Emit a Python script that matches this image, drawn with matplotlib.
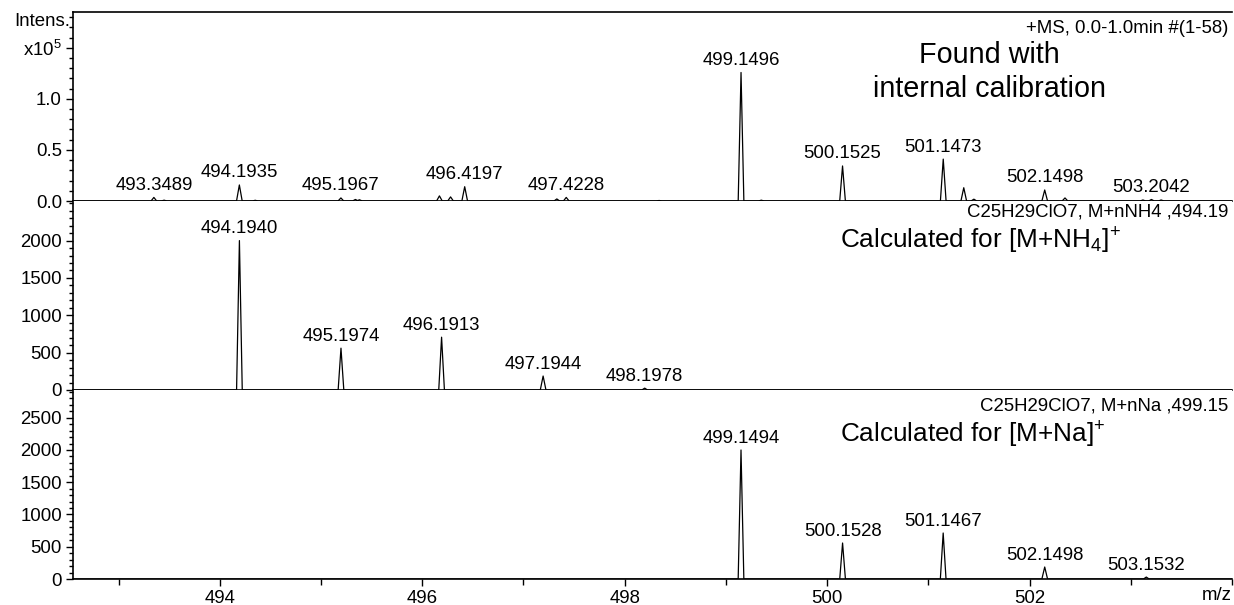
import numpy as np
import matplotlib
matplotlib.use("Agg")
import matplotlib.pyplot as plt
from matplotlib.ticker import MultipleLocator, FixedLocator

plt.rcParams['font.family'] = ['Liberation Sans', 'DejaVu Sans']
plt.rcParams['mathtext.fontset'] = 'custom'
plt.rcParams['mathtext.rm'] = 'Liberation Sans'
plt.rcParams['mathtext.it'] = 'Liberation Sans:italic'
plt.rcParams['mathtext.bf'] = 'Liberation Sans:bold'

# measured spectrum (internal calibration), intensities in counts
found_mz = [493.3489, 493.45, 494.1935, 494.35, 495.1967, 495.34, 495.38,
            496.17, 496.28, 496.4197, 497.33, 497.4228, 498.34, 499.1496,
            499.35, 500.1525, 501.1473, 501.35, 501.45, 502.1498, 502.35,
            503.12, 503.2042, 503.30]
found_int = [3500, 800, 15700, 700, 3000, 1500, 1200,
             5000, 4000, 14000, 2000, 3500, 500, 125800,
             800, 34300, 41000, 13000, 1800, 10800, 3000,
             1000, 1500, 1000]
found_labels = ["493.3489", "494.1935", "495.1967", "496.4197", "497.4228",
                "499.1496", "500.1525", "501.1473", "502.1498", "503.2042"]

# calculated isotope pattern for [M+NH4]+
nh4_mz = [494.1940, 495.1974, 496.1913, 497.1944, 498.1978]
nh4_int = [2000, 560, 707, 187, 25]

# calculated isotope pattern for [M+Na]+
na_mz = [499.1494, 500.1528, 501.1467, 502.1498, 503.1532]
na_int = [2000, 558, 713, 186, 30]

x_major = [494, 496, 498, 500, 502]
x_minor = [493, 495, 497, 499, 501, 503, 504]

XMIN, XMAX = 492.55, 504.0


def profile(mz, inten, w=0.028):
    xs, ys = [XMIN], [0.0]
    for m, h in sorted(zip(mz, inten)):
        xs += [m - w, m, m + w]
        ys += [0.0, h, 0.0]
    xs.append(XMAX)
    ys.append(0.0)
    return np.array(xs), np.array(ys)


fig = plt.figure(figsize=(12.34, 6.05), dpi=100)
L, W = 73 / 1234, (1232 - 73) / 1234
H = 189 / 605
ax1 = fig.add_axes([L, (605 - 201) / 605, W, H])
ax2 = fig.add_axes([L, (605 - 390) / 605, W, H], sharex=ax1)
ax3 = fig.add_axes([L, (605 - 579) / 605, W, H], sharex=ax1)

lab_fs = 13.4
for ax in (ax1, ax2, ax3):
    ax.spines['right'].set_visible(False)
    for s in ('left', 'bottom', 'top'):
        ax.spines[s].set_linewidth(1.2)
    ax.tick_params(axis='y', which='major', length=5, width=1, pad=3, labelsize=lab_fs)
    ax.tick_params(axis='y', which='minor', length=3, width=1)
    ax.set_xlim(XMIN, XMAX)

ax2.spines['top'].set_visible(False)
ax3.spines['top'].set_visible(False)

# top panel: found
x, y = profile(found_mz, found_int)
ax1.plot(x, y / 1e5, color='black', lw=0.9)
ax1.set_ylim(0, 1.85)
ax1.yaxis.set_major_locator(FixedLocator([0, 0.5, 1.0, 1.5]))
ax1.set_yticklabels(["0.0", "0.5", "1.0", "x10$^5$"])
ax1.yaxis.set_minor_locator(MultipleLocator(0.1))
for m, h in zip(found_mz, found_int):
    lab = "%.4f" % m
    if lab in found_labels:
        ax1.annotate(lab, (m, h / 1e5), xytext=(0, 2.5), textcoords='offset points',
                     ha='center', va='bottom', fontsize=lab_fs)

# middle panel: [M+NH4]+
x, y = profile(nh4_mz, nh4_int)
ax2.plot(x, y, color='black', lw=0.9)
ax2.set_ylim(0, 2530)
ax2.yaxis.set_major_locator(FixedLocator([0, 500, 1000, 1500, 2000]))
ax2.yaxis.set_minor_locator(MultipleLocator(100))
for m, h in zip(nh4_mz, nh4_int):
    ax2.annotate("%.4f" % m, (m, h), xytext=(0, 2.5), textcoords='offset points',
                 ha='center', va='bottom', fontsize=lab_fs)

# bottom panel: [M+Na]+
x, y = profile(na_mz, na_int)
ax3.plot(x, y, color='black', lw=0.9)
ax3.set_ylim(0, 2930)
ax3.yaxis.set_major_locator(MultipleLocator(500))
ax3.yaxis.set_minor_locator(MultipleLocator(100))
for m, h in zip(na_mz, na_int):
    ax3.annotate("%.4f" % m, (m, h), xytext=(0, 2.5), textcoords='offset points',
                 ha='center', va='bottom', fontsize=lab_fs)

for ax in (ax1, ax2):
    ax.tick_params(axis='x', which='both', bottom=False, labelbottom=False)
ax3.xaxis.set_major_locator(FixedLocator(x_major))
ax3.xaxis.set_minor_locator(FixedLocator(x_minor))
ax3.tick_params(axis='x', which='major', length=5, width=1, pad=3, labelsize=lab_fs)
ax3.tick_params(axis='x', which='minor', length=4, width=1)

# headers and titles
ax1.text(0.9965, 0.958, "+MS, 0.0-1.0min #(1-58)", transform=ax1.transAxes,
         ha='right', va='top', fontsize=lab_fs)
ax2.text(0.9965, 0.985, "C25H29ClO7, M+nNH4 ,494.19", transform=ax2.transAxes,
         ha='right', va='top', fontsize=lab_fs)
ax3.text(0.9965, 0.96, "C25H29ClO7, M+nNa ,499.15", transform=ax3.transAxes,
         ha='right', va='top', fontsize=lab_fs)

ax1.text(0.791, 0.683, "Found with\ninternal calibration", transform=ax1.transAxes,
         ha='center', va='center', fontsize=20.7, linespacing=1.25)
ax2.text(0.662, 0.79, r"$\mathregular{Calculated\ for\ [M{+}NH_4]^{+}}$",
         transform=ax2.transAxes, ha='left', va='center', fontsize=18.8)
ax3.text(0.662, 0.762, r"$\mathregular{Calculated\ for\ [M{+}Na]^{+}}$",
         transform=ax3.transAxes, ha='left', va='center', fontsize=18.8)

fig.text(70 / 1234, (605 - 22) / 605, "Intens.", ha='right', va='center', fontsize=lab_fs)
fig.text(1232 / 1234, (605 - 596) / 605, "m/z", ha='right', va='center', fontsize=lab_fs)

fig.savefig("out.png", dpi=100)
plt.close(fig)
